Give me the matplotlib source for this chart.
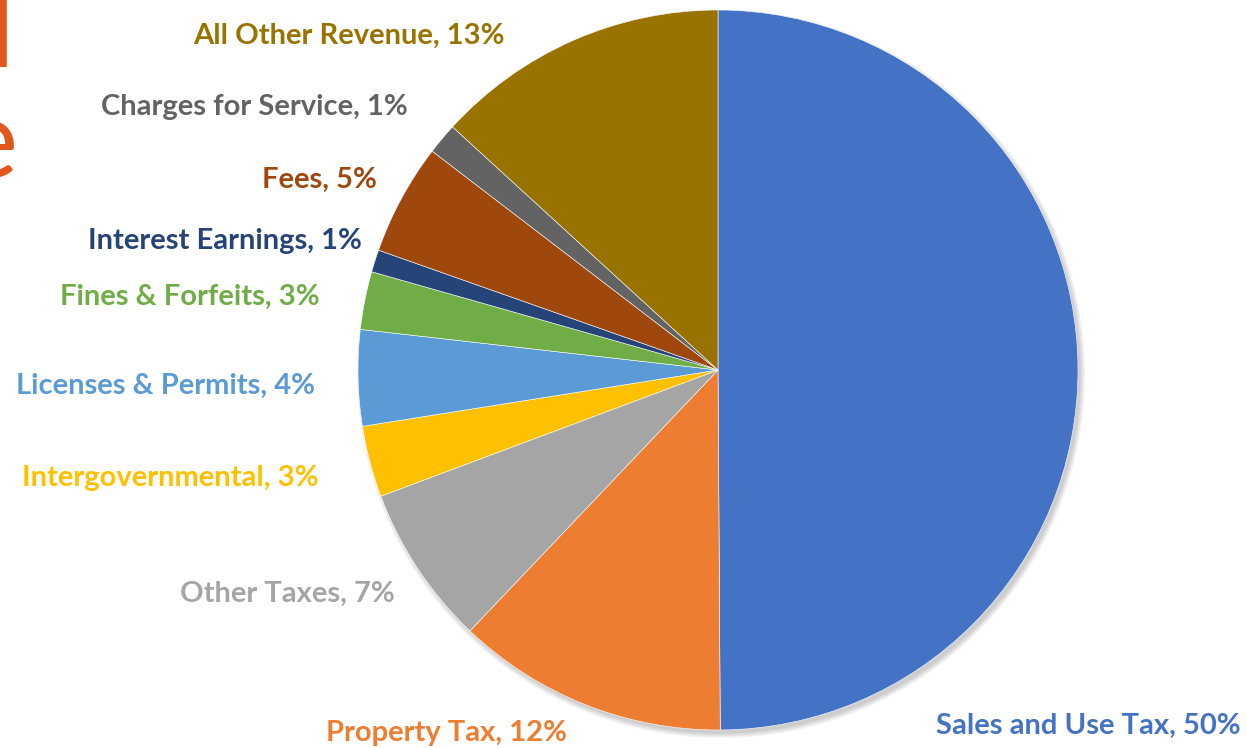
import matplotlib.pyplot as plt
from matplotlib.patches import Circle

# revenue shares (%), clockwise from 12 o'clock
categories = ['Sales and Use Tax', 'Property Tax', 'Other Taxes', 'Intergovernmental',
              'Licenses & Permits', 'Fines & Forfeits', 'Interest Earnings', 'Fees',
              'Charges for Service', 'All Other Revenue']
shares = [49.9, 12.2, 7.2, 3.2, 4.3, 2.6, 1.0, 5.0, 1.4, 13.2]
shown_pct = [50, 12, 7, 3, 4, 3, 1, 5, 1, 13]
colors = ['#4472C4', '#ED7D31', '#A5A5A5', '#FFC000', '#5B9BD5',
          '#70AD47', '#264478', '#9E480E', '#636363', '#997300']

# label centres in pixel coords (x, y from top)
label_pos = [(1088, 726), (447, 733), (287, 594), (170, 478), (166, 386),
             (190, 297), (225, 241), (319, 180), (254, 107), (349, 36)]

W, H = 1247, 748
fig = plt.figure(figsize=(W / 100, H / 100), dpi=100)
ax = fig.add_axes([0, 0, 1, 1])
ax.set_aspect('equal')

cx, cy, r = 718, H - 370, 360

# soft shadow
for i in range(4):
    ax.add_patch(Circle((cx + 3, cy - 4), r + 4 - i * 1.5, color='black', alpha=0.05, lw=0, zorder=0))

ax.pie(shares, colors=colors, startangle=90, counterclock=False,
       center=(cx, cy), radius=r, frame=True,
       wedgeprops=dict(edgecolor='white', linewidth=0.4, zorder=2))
ax.set_xlim(0, W)
ax.set_ylim(0, H)
ax.axis('off')

for name, p, col, (x, y) in zip(categories, shown_pct, colors, label_pos):
    ax.text(x, H - y, f'{name}, {p}%', color=col, fontsize=21, fontweight='bold',
            family='Lato', ha='center', va='center')

# cut-off slide title on the left edge
ax.text(16, H - 67, 'General', color='#E0561C', fontsize=78, family='Lato',
        ha='right', va='baseline')
ax.text(18, H - 177, 'Revenue', color='#E0561C', fontsize=78, family='Lato',
        ha='right', va='baseline')

fig.savefig('out.png', dpi=100)
